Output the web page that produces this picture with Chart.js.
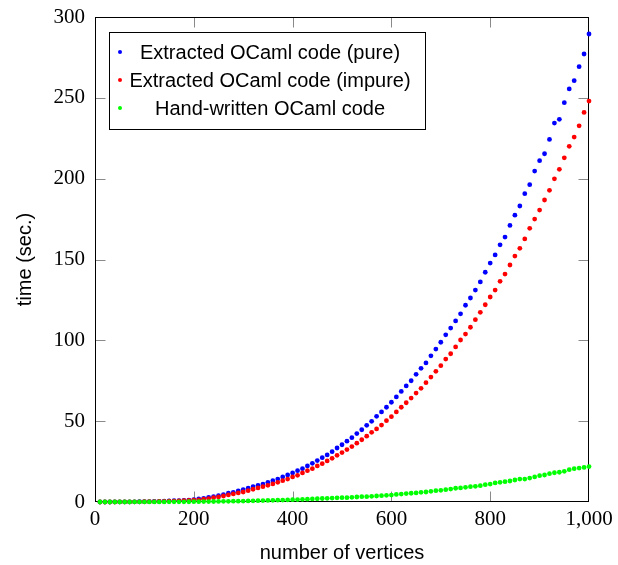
<!DOCTYPE html>
<html>
<head>
<meta charset="utf-8">
<script src="https://cdn.jsdelivr.net/npm/chart.js@4/dist/chart.umd.min.js"></script>
<style>
  html, body { margin: 0; padding: 0; background: #fff; }
  #wrap { width: 618px; height: 565px; }
</style>
</head>
<body>
<div id="wrap"><canvas id="c" width="618" height="565"></canvas></div>
<script>
// ---- data ----
const vertices = [
  10, 20, 30, 40, 50, 60, 70, 80, 90, 100,
  110, 120, 130, 140, 150, 160, 170, 180, 190, 200,
  210, 220, 230, 240, 250, 260, 270, 280, 290, 300,
  310, 320, 330, 340, 350, 360, 370, 380, 390, 400,
  410, 420, 430, 440, 450, 460, 470, 480, 490, 500,
  510, 520, 530, 540, 550, 560, 570, 580, 590, 600,
  610, 620, 630, 640, 650, 660, 670, 680, 690, 700,
  710, 720, 730, 740, 750, 760, 770, 780, 790, 800,
  810, 820, 830, 840, 850, 860, 870, 880, 890, 900,
  910, 920, 930, 940, 950, 960, 970, 980, 990, 1000
];
const pureTimes = [
  0, 0, 0.01, 0.02, 0.03, 0.05, 0.07, 0.1, 0.14, 0.2,
  0.26, 0.33, 0.42, 0.52, 0.63, 0.76, 0.9, 1.05, 1.22, 1.4,
  1.9, 2.3, 2.9, 3.3, 3.9, 4.5, 5.4, 6.0, 6.8, 7.6,
  8.5, 9.5, 10.3, 11.1, 12.2, 13.2, 14.2, 15.5, 16.7, 18.0,
  19.4, 20.6, 22.3, 23.9, 25.6, 27.4, 29.1, 31.1, 33.4, 35.4,
  37.6, 39.8, 42.3, 44.7, 47.4, 49.9, 53.0, 55.7, 58.6, 61.7,
  65.0, 68.4, 71.8, 75.0, 79.0, 82.7, 86.0, 90.4, 94.6, 98.8,
  103.4, 107.6, 112.0, 116.4, 121.7, 126.2, 131.1, 136.1, 142.1, 147.8,
  152.8, 159.1, 163.9, 171.1, 177.4, 183.1, 190.7, 196.3, 204.7, 211.1,
  215.4, 224.3, 234.4, 236.7, 247.0, 255.5, 260.6, 269.3, 277.1, 289.5
];
const impureTimes = [
  0, 0, 0.01, 0.01, 0.02, 0.04, 0.06, 0.08, 0.11, 0.15,
  0.2, 0.26, 0.33, 0.41, 0.5, 0.6, 0.7, 0.82, 0.95, 1.1,
  1.3, 1.7, 2.1, 2.7, 3.1, 3.7, 4.4, 5.0, 5.6, 6.2,
  7.0, 7.9, 8.7, 9.5, 10.3, 11.2, 12.2, 13.2, 14.2, 15.5,
  16.5, 18.0, 19.4, 20.6, 22.3, 23.7, 25.4, 27.0, 28.9, 30.6,
  32.4, 34.3, 36.4, 38.5, 40.7, 43.1, 45.2, 47.6, 50.3, 52.8,
  55.7, 58.6, 61.4, 64.3, 67.4, 70.3, 73.8, 77.3, 80.8, 84.3,
  88.4, 91.7, 95.9, 100.2, 103.9, 108.1, 112.8, 117.3, 122.0, 126.8,
  131.1, 136.5, 141.0, 146.6, 152.1, 156.9, 162.7, 169.3, 175.0, 180.6,
  186.8, 192.8, 199.9, 205.8, 212.9, 220.0, 225.7, 232.7, 241.0, 248.0
];
const handTimes = [
  0, 0, 0, 0, 0, 0.01, 0.01, 0.02, 0.02, 0.03,
  0.03, 0.04, 0.05, 0.06, 0.08, 0.09, 0.11, 0.13, 0.16, 0.18,
  0.21, 0.24, 0.27, 0.31, 0.35, 0.39, 0.43, 0.48, 0.54, 0.6,
  0.66, 0.72, 0.8, 0.87, 0.95, 1.03, 1.12, 1.21, 1.31, 1.42,
  1.53, 1.64, 1.76, 1.89, 2.02, 2.15, 2.3, 2.45, 2.58, 2.7,
  2.7, 2.9, 3.1, 3.3, 3.3, 3.5, 3.7, 3.9, 4.1, 4.3,
  4.7, 4.9, 5.2, 5.4, 5.6, 6.0, 6.2, 6.6, 7.0, 7.2,
  7.6, 8.0, 8.5, 8.7, 9.1, 9.5, 9.7, 10.1, 10.7, 11.1,
  11.8, 12.2, 12.6, 13.0, 13.6, 14.2, 14.2, 14.8, 15.5, 16.3,
  16.7, 17.5, 18.1, 18.4, 19.0, 20.0, 20.6, 21.0, 21.4, 21.9
];
const seriesLabels = [
  'Extracted OCaml code (pure)',
  'Extracted OCaml code (impure)',
  'Hand-written OCaml code'
];
const xTicks = [0, 200, 400, 600, 800, 1000];
const xTickLabels = ['0', '200', '400', '600', '800', '1,000'];
const yTicks = [0, 50, 100, 150, 200, 250, 300];
const yTickLabels = ['0', '50', '100', '150', '200', '250', '300'];
const xTitle = 'number of vertices';
const yTitle = 'time (sec.)';

// ---- styling ----
const colors = ['#0000ff', '#ff0000', '#00ff00'];
const SERIF = '"Liberation Serif", "DejaVu Serif", serif';
const SANS = '"Liberation Sans", Arial, sans-serif';
const TICK_LEN = 10;

const toPoints = (ys) => vertices.map((v, i) => ({ x: v, y: ys[i] }));

const framePlugin = {
  id: 'frame',
  beforeDatasetsDraw(chart) {
    const { ctx, chartArea: ca, scales: { x, y } } = chart;
    const L = Math.round(ca.left) + 0.5, R = Math.round(ca.right) - 0.5;
    const T = Math.round(ca.top) + 0.5, B = Math.round(ca.bottom) - 0.5;
    ctx.save();
    ctx.strokeStyle = '#8a8a8a';
    ctx.lineWidth = 1;
    ctx.beginPath();
    xTicks.forEach(v => {
      const px = Math.round(x.getPixelForValue(v)) + 0.5;
      if (px <= L + 1 || px >= R - 1) return;
      ctx.moveTo(px, B); ctx.lineTo(px, B - TICK_LEN);
      ctx.moveTo(px, T); ctx.lineTo(px, T + TICK_LEN);
    });
    yTicks.forEach(v => {
      const py = Math.round(y.getPixelForValue(v)) + 0.5;
      if (py <= T + 1 || py >= B - 1) return;
      ctx.moveTo(L, py); ctx.lineTo(L + TICK_LEN, py);
      ctx.moveTo(R, py); ctx.lineTo(R - TICK_LEN, py);
    });
    ctx.stroke();
    ctx.strokeStyle = '#000';
    ctx.strokeRect(L, T, R - L, B - T);
    ctx.restore();
  },
  afterDatasetsDraw(chart) {
    const { ctx, chartArea: ca } = chart;
    const bx = Math.round(ca.left + 14) + 0.5, by = Math.round(ca.top + 15) + 0.5;
    const bw = 316, bh = 97;
    ctx.save();
    ctx.fillStyle = '#fff';
    ctx.fillRect(bx, by, bw, bh);
    ctx.strokeStyle = '#000';
    ctx.lineWidth = 1;
    ctx.strokeRect(bx, by, bw, bh);
    ctx.font = '20px ' + SANS;
    ctx.textAlign = 'center';
    ctx.textBaseline = 'middle';
    chart.data.datasets.forEach((ds, i) => {
      const ry = ca.top + 35 + i * 28;
      ctx.fillStyle = ds.backgroundColor;
      ctx.beginPath();
      ctx.arc(ca.left + 25, ry, 2, 0, Math.PI * 2);
      ctx.fill();
      ctx.fillStyle = '#000';
      ctx.fillText(ds.label, ca.left + 175, ry + 1);
    });
    ctx.restore();
  }
};

new Chart(document.getElementById('c'), {
  type: 'scatter',
  data: {
    datasets: [
      { label: seriesLabels[0], data: toPoints(pureTimes), backgroundColor: colors[0], order: 3 },
      { label: seriesLabels[1], data: toPoints(impureTimes), backgroundColor: colors[1], order: 2 },
      { label: seriesLabels[2], data: toPoints(handTimes), backgroundColor: colors[2], order: 1 }
    ].map(d => Object.assign(d, {
      pointRadius: 2.4, pointBorderWidth: 0, borderColor: d.backgroundColor,
      pointHoverRadius: 2.4, showLine: false, clip: false
    }))
  },
  options: {
    responsive: false,
    animation: false,
    events: [],
    layout: { padding: { left: 0, right: 29, top: 17, bottom: 0 } },
    plugins: { legend: { display: false }, tooltip: { enabled: false } },
    scales: {
      x: {
        type: 'linear', min: 0, max: 1000,
        grid: { display: false, drawTicks: false },
        border: { display: false },
        afterBuildTicks: (s) => { s.ticks = xTicks.map(v => ({ value: v })); },
        afterFit: (s) => { s.height = 63; s.paddingLeft = 0; s.paddingRight = 0; },
        ticks: {
          padding: 5, maxRotation: 0, autoSkip: false,
          color: '#000', font: { family: SERIF, size: 21 },
          callback: (v, i) => xTickLabels[i]
        },
        title: {
          display: true, text: xTitle, color: '#000',
          font: { family: SANS, size: 20 }, padding: { top: 0, bottom: 0 }
        }
      },
      y: {
        type: 'linear', min: 0, max: 300,
        grid: { display: false, drawTicks: false },
        border: { display: false },
        afterBuildTicks: (s) => { s.ticks = yTicks.map(v => ({ value: v })); },
        afterFit: (s) => { s.width = 95; s.paddingTop = 0; s.paddingBottom = 0; },
        ticks: {
          padding: 10, autoSkip: false,
          color: '#000', font: { family: SERIF, size: 21 },
          callback: (v, i) => yTickLabels[i]
        },
        title: {
          display: true, text: yTitle, color: '#000',
          font: { family: SANS, size: 20 }, padding: { top: 13, bottom: 0 }
        }
      }
    }
  },
  plugins: [framePlugin]
});
</script>
</body>
</html>
